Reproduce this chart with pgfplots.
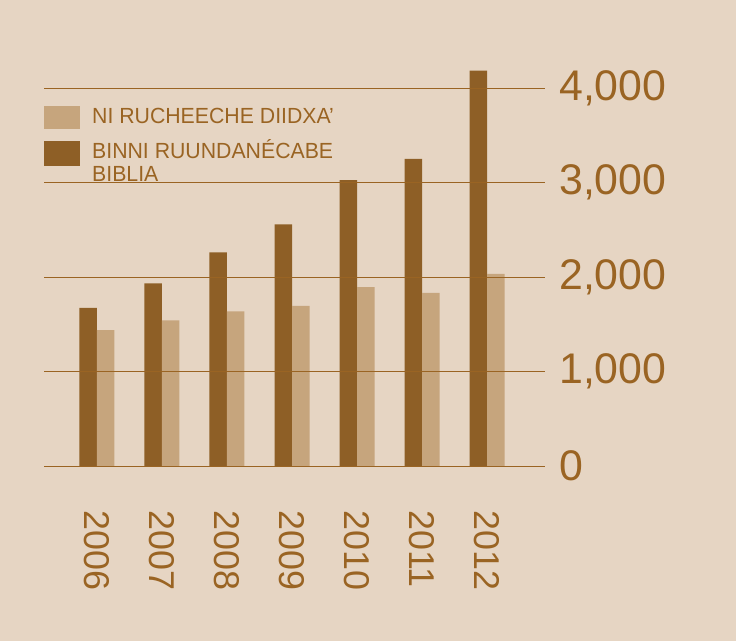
\documentclass[border=0pt]{standalone}
\usepackage{fontspec}
\setmainfont{Liberation Sans}
\newfontfamily\legfont[FakeStretch=0.97]{Liberation Sans}
\usepackage{pgfplots}
\pgfplotsset{compat=1.18}

\definecolor{bg}{HTML}{E6D5C3}
\definecolor{darkbar}{HTML}{8E5F26}
\definecolor{lightbar}{HTML}{C6A57D}
\definecolor{txt}{HTML}{9A6423}

\begin{document}
\begin{tikzpicture}
\fill[bg] (0,0) rectangle (736bp,641bp);
\useasboundingbox (0,0) rectangle (736bp,641bp);

% legend, drawn by hand (gridlines go over it)
\fill[lightbar] (44bp,512bp) rectangle (80bp,535bp);
\fill[darkbar] (44bp,475bp) rectangle (80bp,500bp);
\begin{scope}[every node/.style={anchor=base west, inner sep=0pt, text=txt,
    font=\legfont\fontsize{22}{22}\selectfont}]
  \node at (92bp,517bp) {NI RUCHEECHE DIIDXA’};
  \node at (92bp,482bp) {BINNI RUUNDANÉCABE};
  \node at (92bp,459bp) {BIBLIA};
\end{scope}

\begin{axis}[
    at={(44bp,175bp)}, anchor=south west,
    scale only axis,
    width=501bp, height=415.5bp,
    xmin=-0.815, xmax=6.892,
    ymin=0, ymax=4400,
    ybar=0pt, bar width=17.5bp,
    axis line style={draw=none},
    major tick length=0pt,
    ymajorgrids,
    grid style={txt, line width=0.8bp},
    axis on top,
    ytick={0,1000,2000,3000,4000},
    yticklabel pos=right,
    yticklabel shift=14bp,
    yticklabel style={anchor=west, inner sep=0pt, text=txt,
        font=\fontsize{43}{43}\selectfont},
    /pgf/number format/1000 sep={,},
    /pgf/number format/assume math mode=true,
    xtick={0,1,2,3,4,5,6},
    xticklabels={2006,2007,2008,2009,2010,2011,2012},
    xticklabel shift=44bp,
    xticklabel style={rotate=-90, anchor=west, inner sep=0pt, text=txt,
        font=\fontsize{36}{36}\selectfont},
]
\addplot[fill=darkbar, draw=none] coordinates {
    (0,1675) (1,1933) (2,2261) (3,2558) (4,3026) (5,3252) (6,4187)};
\addplot[fill=lightbar, draw=none] coordinates {
    (0,1439) (1,1542) (2,1637) (3,1696) (4,1894) (5,1834) (6,2035)};
\end{axis}
\end{tikzpicture}
\end{document}
